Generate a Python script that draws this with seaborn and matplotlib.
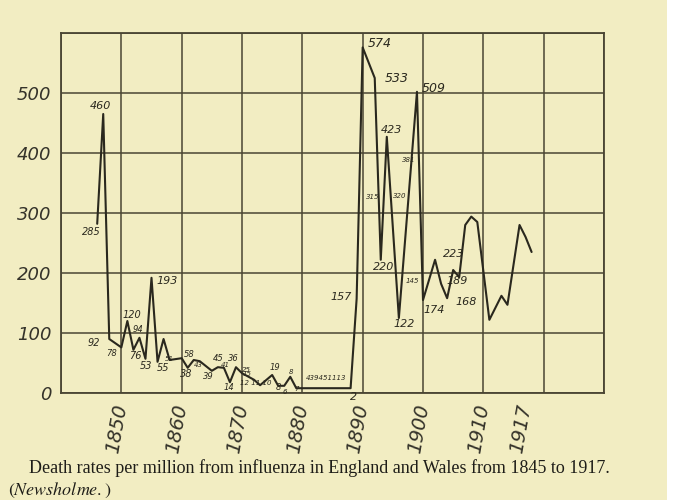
import matplotlib
matplotlib.use("Agg")
import matplotlib.pyplot as plt
import seaborn as sns
from matplotlib.patches import Rectangle

# vertices of the drawn curve (year, deaths per million)
years = [1846, 1847, 1848, 1850, 1851, 1852, 1853, 1854, 1855, 1856, 1857, 1858,
         1860, 1861, 1862, 1863, 1865, 1866, 1867, 1868, 1869, 1870, 1872, 1873,
         1875, 1876, 1877, 1878, 1879, 1888, 1889, 1890, 1892, 1893, 1894, 1896,
         1899, 1900, 1902, 1903, 1904, 1905, 1906, 1907, 1908, 1909, 1911, 1913,
         1914, 1916, 1917, 1918]
rates = [282, 465, 90, 76, 120, 72, 92, 57, 192, 52, 90, 55,
         58, 42, 55, 53, 37, 43, 42, 18, 43, 33, 22, 13,
         30, 12, 12, 27, 8, 8, 157, 576, 525, 222, 427, 125,
         502, 155, 222, 182, 158, 205, 193, 280, 294, 285, 122, 162,
         147, 280, 260, 235]

# hand written figures beside the curve: text, year, value, size
note_text = ["460", "285", "92", "78", "120", "94", "76", "53", "193", "55", "51",
             "58", "38", "43", "45", "39", "41", "36", "14", "25", "15", "12 11 10",
             "19", "8", "6", "8", "7", "439451113", "2", "157",
             "574", "533", "509", "423", "381", "315", "320", "220", "145", "122",
             "174", "223", "189", "168"]
note_year = [1846.5, 1845.1, 1845.4, 1848.4, 1851.7, 1852.8, 1852.4, 1854.1, 1857.6, 1856.9, 1857.9,
             1861.2, 1860.8, 1862.7, 1866.0, 1864.4, 1867.3, 1868.6, 1867.8, 1870.8, 1870.9, 1872.2,
             1875.5, 1876.0, 1877.1, 1878.1, 1879.1, 1883.9, 1888.5, 1886.4,
             1892.8, 1895.6, 1901.7, 1894.7, 1897.7, 1891.7, 1896.2, 1893.5, 1898.2, 1896.9,
             1901.8, 1905.1, 1905.7, 1907.1]
note_val = [478, 268, 84, 66, 130, 106, 62, 45, 187, 42, 56,
            64, 32, 47, 58, 27, 47, 58, 10, 39, 31, 17,
            42, 10, 2, 35, 7, 25, -7, 160,
            582, 524, 508, 438, 388, 327, 328, 210, 187, 115,
            138, 232, 186, 152]
note_size = [8, 7, 7, 6, 7, 6, 7, 7, 8, 7, 5,
             6, 7, 5, 6, 6, 5, 6, 6, 5, 5, 5,
             6, 6, 5, 5, 5, 5, 8, 8,
             9, 9, 9, 8, 5, 5, 5, 8, 5, 8,
             8, 8, 8, 8]

decades = list(range(1840, 1931, 10))
decade_labels = ["", "1850", "1860", "1870", "1880", "1890", "1900", "1910", "", ""]
last_year = [1917]
y_ticks = [0, 100, 200, 300, 400, 500, 600]
y_labels = ["0", "100", "200", "300", "400", "500", ""]

page = "#f2edc2"
ink = "#2a281e"
rule = "#4a4533"

sns.set_style("white")
plt.rcParams["font.family"] = ["DejaVu Sans"]
plt.rcParams["mathtext.fontset"] = "stix"

fig = plt.figure(figsize=(7, 5), dpi=100)
fig.patch.set_facecolor(page)
fig.patches.append(Rectangle((667 / 700, 0), 33 / 700, 1, transform=fig.transFigure,
                             facecolor="white", edgecolor="none"))

ax = fig.add_axes([61 / 700, 1 - 393 / 500, 543 / 700, 360 / 500])
ax.set_facecolor(page)

sns.lineplot(x=years, y=rates, ax=ax, color=ink, lw=1.5, sort=False, estimator=None)

ax.set_xlim(1840, 1930)
ax.set_ylim(0, 600)
ax.set_xticks(decades, labels=decade_labels)
ax.set_xticks(last_year, labels=[str(y) for y in last_year], minor=True)
ax.set_yticks(y_ticks, labels=y_labels)
ax.xaxis.grid(True, which="major", color=rule, lw=1.1)
ax.xaxis.grid(False, which="minor")
ax.yaxis.grid(True, which="major", color=rule, lw=1.1)
ax.set_axisbelow(True)
for s in ax.spines.values():
    s.set_color(rule)
    s.set_linewidth(1.3)
ax.tick_params(which="both", length=0)
ax.tick_params(axis="x", which="both", pad=8)
ax.tick_params(axis="y", pad=7)

for lbl in ax.get_xticklabels() + ax.get_xticklabels(minor=True):
    lbl.set_rotation(80)
    lbl.set_ha("right")
    lbl.set_va("center")
    lbl.set_rotation_mode("anchor")
    lbl.set_fontsize(14)
    lbl.set_style("italic")
    lbl.set_color("#35332a")
for lbl in ax.get_yticklabels():
    lbl.set_fontsize(13)
    lbl.set_style("italic")
    lbl.set_color("#35332a")

for t, yr, v, fs in zip(note_text, note_year, note_val, note_size):
    ax.text(yr, v, t, fontsize=fs, style="italic", color=ink,
            ha="center", va="center", clip_on=False)

fig.text(29 / 700, 1 - 468 / 500,
         "Death rates per million from influenza in England and Wales from 1845 to 1917.",
         family="Liberation Serif", fontsize=13, color="#1e1d18", va="center")
fig.text(8 / 700, 1 - 490 / 500, r"$(\mathit{Newsholme.})$",
         fontsize=13, color="#1e1d18", va="center")

fig.savefig("out.png", dpi=100, facecolor=fig.get_facecolor())
